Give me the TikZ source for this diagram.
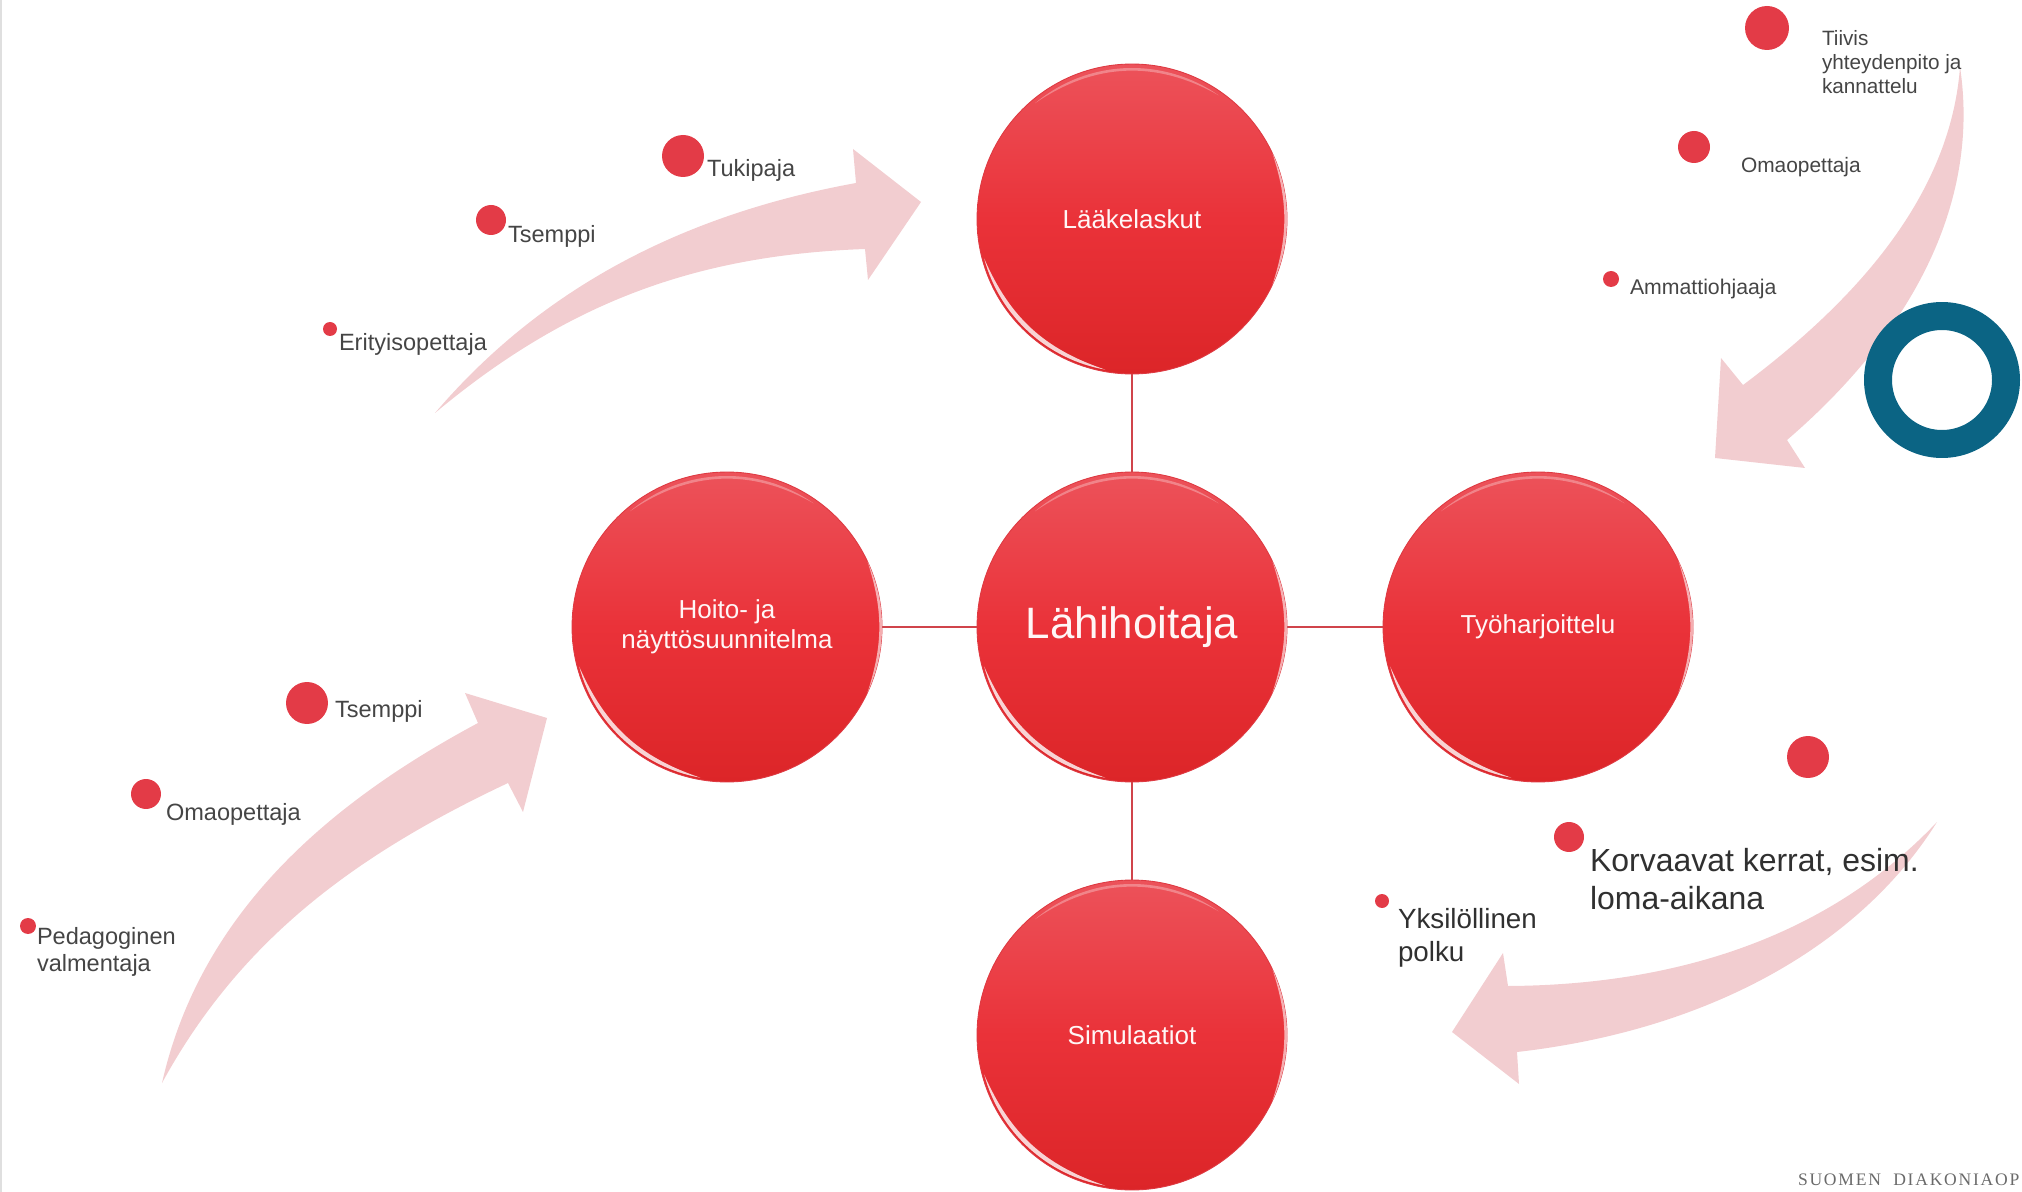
\documentclass[tikz,border=0pt]{standalone}
\usepackage{fontspec}
\setmainfont{Liberation Sans}
\newfontfamily\logofont[LetterSpace=10,WordSpace=2]{Liberation Serif}
\definecolor{pallo}{HTML}{E33B47}
\definecolor{vari1}{HTML}{EC525A}
\definecolor{vari2}{HTML}{EA3239}
\definecolor{vari3}{HTML}{DC2528}
\definecolor{reuna}{HTML}{DE3A42}
\definecolor{nuoli}{HTML}{F2CDD0}
\definecolor{rengas}{HTML}{0B6484}
\definecolor{teksti}{HTML}{454545}
\newcommand{\koko}[1]{\fontsize{#1}{1.17\dimexpr#1pt\relax}\selectfont}
\tikzstyle{every node}=[inner sep=0pt,outer sep=0pt]
\tikzstyle{iso}=[circle,minimum size=6.2cm,top color=vari1,bottom color=vari3,middle color=vari2,draw=reuna,line width=0.5pt,text=white!85!pink,align=center,font=\koko{14.8}]
\tikzstyle{pallo}=[circle,fill=pallo]
\tikzstyle{selite}=[anchor=west,align=left,text=teksti,font=\koko{13.4}]
\tikzstyle{viiva}=[draw=reuna!85!gray,line width=1.2pt]
\tikzstyle{kiilto}=[fill=white,opacity=0.8]
\tikzstyle{nuolimuoto}=[fill=nuoli,draw=none]

\begin{document}
\begin{tikzpicture}[x=0.02cm,y=-0.02cm]
  \useasboundingbox (0,0) rectangle (2022,1192);
  \draw[gray!25,line width=0.6pt] (1,0) -- (1,1192);

  % nuolet
  \path[nuolimuoto] (435,413) .. controls (540,290) and (680,215) .. (856,183)
    -- (853,149) -- (921,202) -- (868,280) -- (865,249)
    .. controls (700,255) and (570,300) .. (435,413) -- cycle;
  \path[nuolimuoto] (162,1083) .. controls (200,915) and (325,805) .. (478,723)
    -- (465,693) -- (547,718) -- (523,812) -- (508,783)
    .. controls (355,855) and (240,940) .. (162,1083) -- cycle;
  \path[nuolimuoto] (1960,67) .. controls (1980,200) and (1915,330) .. (1787,440)
    -- (1805,468) -- (1715,458) -- (1721,358) -- (1743,385)
    .. controls (1850,305) and (1950,200) .. (1960,67) -- cycle;
  \path[nuolimuoto] (1937,822) .. controls (1860,945) and (1710,1030) .. (1517,1052)
    -- (1519,1084) -- (1452,1032) -- (1503,953) -- (1508,986)
    .. controls (1680,985) and (1830,935) .. (1937,822) -- cycle;

  \node[iso,font=\koko{25}] (lahi) at (1132,627) {Lähihoitaja};
  \node[iso] (laake) at (1132,219) {Lääkelaskut};
  \node[iso] (hoito) at (727,627) {Hoito- ja\\näyttösuunnitelma};
  \node[iso] (tyo) at (1538,627) {Työharjoittelu};
  \node[iso] (simu) at (1132,1035) {Simulaatiot};

  \foreach \n in {laake,hoito,tyo,simu}
    \draw[viiva] (lahi) -- (\n);
  \foreach \n in {lahi,laake,hoito,tyo,simu} {
    \fill[kiilto] ([shift={(\n.center)}]165:153) arc[start angle=165,end angle=100,radius=153] to[bend left=24] ([shift={(\n.center)}]165:153);
    \fill[kiilto,opacity=0.3] ([shift={(\n.center)}]-130:151) arc[start angle=-130,end angle=-55,radius=151] to[bend right=32] ([shift={(\n.center)}]-130:151);
    \fill[kiilto,opacity=0.6] ([shift={(\n.center)}]-25:155) arc[start angle=-25,end angle=25,radius=155] to[bend right=18] ([shift={(\n.center)}]-25:155);
  }

  \node[circle,draw=rengas,line width=0.56cm,minimum size=2.56cm] (rengas) at (1942,380) {};

  % ylavasen
  \node[pallo,minimum size=0.84cm] (p1) at (683,156) {};
  \node[selite] (t1) at (707,170) {Tukipaja};
  \node[pallo,minimum size=0.6cm] (p2) at (491,220) {};
  \node[selite] (t2) at (508,236) {Tsemppi};
  \node[pallo,minimum size=0.28cm] (p3) at (330,329) {};
  \node[selite] (t3) at (339,344) {Erityisopettaja};

  % alavasen
  \node[pallo,minimum size=0.84cm] (p4) at (307,703) {};
  \node[selite] (t4) at (335,711) {Tsemppi};
  \node[pallo,minimum size=0.6cm] (p5) at (146,794) {};
  \node[selite] (t5) at (166,814) {Omaopettaja};
  \node[pallo,minimum size=0.32cm] (p6) at (28,926) {};
  \node[selite] (t6) at (37,952) {Pedagoginen\\valmentaja};

  % ylaoikea
  \node[pallo,minimum size=0.88cm] (p7) at (1767,28) {};
  \node[selite,font=\koko{11.8}] (t7) at (1822,62) {Tiivis\\yhteydenpito ja\\kannattelu};
  \node[pallo,minimum size=0.64cm] (p8) at (1694,147) {};
  \node[selite,font=\koko{11.9}] (t8) at (1741,167) {Omaopettaja};
  \node[pallo,minimum size=0.32cm] (p9) at (1611,279) {};
  \node[selite,font=\koko{12.1}] (t9) at (1630,289) {Ammattiohjaaja};

  % alaoikea
  \node[pallo,minimum size=0.84cm] (p10) at (1808,757) {};
  \node[pallo,minimum size=0.6cm] (p11) at (1569,837) {};
  \node[selite,font=\koko{18.2},text=teksti!70!black] (t11) at (1590,879) {Korvaavat kerrat, esim.\\loma-aikana};
  \node[pallo,minimum size=0.28cm] (p12) at (1382,901) {};
  \node[selite,font=\koko{15.8},text=teksti!70!black] (t12) at (1398,938) {Yksilöllinen\\polku};

  \node[anchor=west,text=teksti!80!white,font=\logofont\koko{10}] (logo) at (1798,1180) {SUOMEN DIAKONIAOP};
\end{tikzpicture}
\end{document}
